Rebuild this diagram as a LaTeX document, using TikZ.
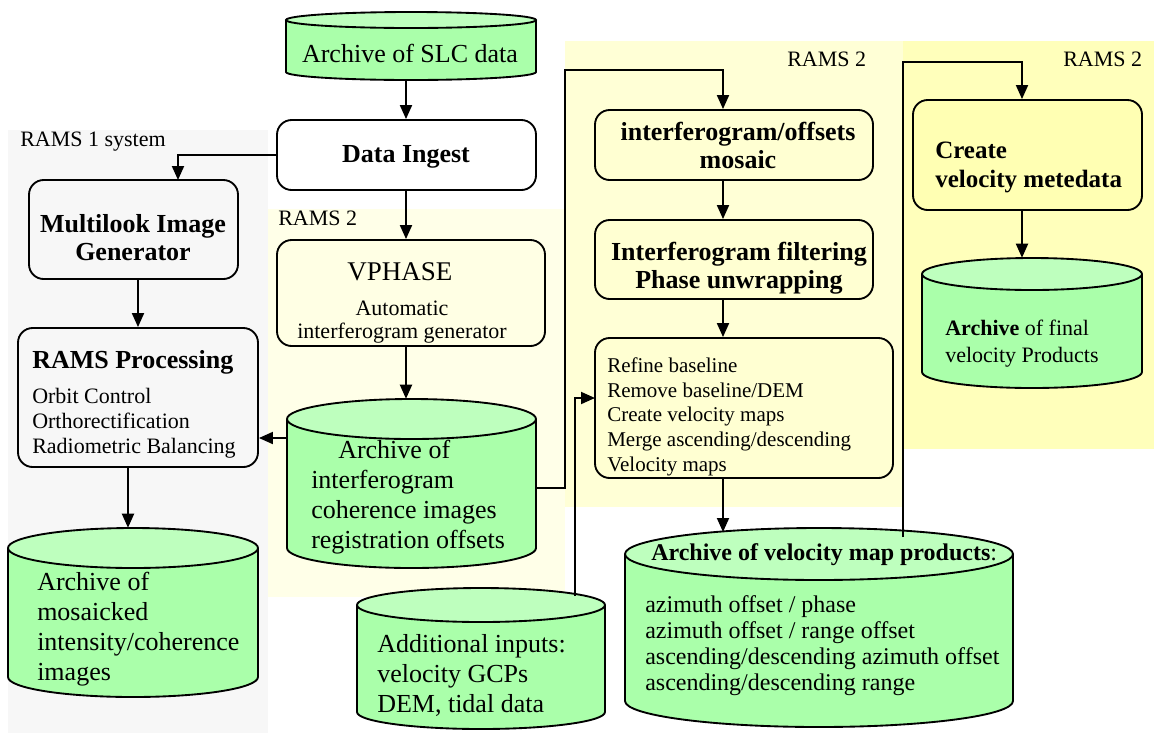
\documentclass[tikz,border=0pt]{standalone}
\usepackage{fontspec}
\setmainfont{Liberation Serif}
\usetikzlibrary{arrows.meta,fit}
\definecolor{bggrey}{HTML}{F7F7F7}
\definecolor{bgyelA}{HTML}{FFFFE8}
\definecolor{bgyelB}{HTML}{FFFFD6}
\definecolor{bgyelC}{HTML}{FFFFBB}
\definecolor{boxA}{HTML}{FFFFE4}
\definecolor{boxB}{HTML}{FFFFD2}
\definecolor{boxC}{HTML}{FFFFB3}
\definecolor{cylbodyc}{HTML}{AAFFAA}
\definecolor{cyltopc}{HTML}{BEFFBE}
\newcommand\fbig{\fontsize{19.5pt}{22.5pt}\selectfont}
\newcommand\fbigt{\fontsize{19.5pt}{21pt}\selectfont}
\newcommand\fmid{\fontsize{18pt}{19.5pt}\selectfont}
\newcommand\fsm{\fontsize{16.5pt}{18.75pt}\selectfont}
\newcommand\fxs{\fontsize{15.75pt}{18.4pt}\selectfont}
\newcommand\drawcyl[6]{%
  \pgfmathsetmacro\crx{(#4-#2)*0.375}%
  \pgfmathsetmacro\cry{#6*0.75}%
  \filldraw[cylbody] (#2,#3) -- (#2,#5) arc[start angle=180,end angle=360,x radius=\crx pt,y radius=\cry pt] -- (#4,#3);
  \filldraw[cyltop] ({(#2+#4)/2},#3) ellipse[x radius=\crx pt,y radius=\cry pt];
  \node[fit={(#2,{#3-#6}) (#4,{#5+#6})},inner sep=0pt] (#1) {};
}
\begin{document}
\begin{tikzpicture}[x=0.75pt,y=-0.75pt,
  proc/.style={draw,line width=1.4pt,rounded corners=11pt,inner sep=0pt},
  cylbody/.style={draw,line width=1.4pt,fill=cylbodyc},
  cyltop/.style={draw,line width=1.4pt,fill=cyltopc},
  arr/.style={draw,line width=1.4pt,-{Triangle[length=10.5pt,width=9pt]}},
  lbl/.style={inner sep=0pt,font=\fsm},
  txt/.style={inner sep=0pt}]
\useasboundingbox (0,0) rectangle (1154,733);
% backgrounds
\fill[bggrey] (8,130) rectangle (268,733);
\fill[bgyelA] (268,209) rectangle (565,597);
\fill[bgyelB] (565,41) rectangle (903,507);
\fill[bgyelC] (903,41) rectangle (1154,449);
% region labels
\node[lbl,anchor=base west] (lab1) at (20,146) {RAMS 1 system};
\node[lbl,anchor=base west] (lab2) at (278,225) {RAMS 2};
\node[lbl,anchor=base west] (lab3) at (787,66) {RAMS 2};
\node[lbl,anchor=base west] (lab4) at (1063,66) {RAMS 2};
% boxes
\node[proc,fill=white,fit={(277,120) (536,190)}] (ingest) {};
\node[proc,fill=bggrey,fit={(29,180) (238,279)}] (multi) {};
\node[proc,fill=bggrey,fit={(18,328) (258,467)}] (rams) {};
\node[proc,fill=boxA,fit={(277,240) (545,346)}] (vphase) {};
\node[proc,fill=boxB,fit={(595,110) (873,180)}] (mos) {};
\node[proc,fill=boxB,fit={(595,220) (873,299)}] (filt) {};
\node[proc,fill=boxB,fit={(595,338) (893,478)}] (refine) {};
\node[proc,fill=boxC,fit={(913,100) (1142,210)}] (create) {};
% cylinders
\drawcyl{slc}{286}{20}{536}{72}{8}
\drawcyl{mosA}{8}{548}{258}{677}{20}
\drawcyl{arch}{287}{419}{536}{548}{20}
\drawcyl{addl}{357}{605}{605}{712}{17}
\drawcyl{velA}{625}{554}{1013}{701}{26}
\drawcyl{finalA}{922}{274}{1142}{372}{16}
% texts (multi-line nodes: base anchor = last line baseline)
\node[txt,font=\fbig,anchor=base] (slcT) at (410,62) {Archive of SLC data};
\node[txt,font=\fbig\bfseries,anchor=base] (ingestT) at (406,162) {Data Ingest};
\node[txt,font=\fbigt\bfseries,align=center,anchor=base] (multiT) at (133,260) {Multilook Image\\Generator};
\node[txt,font=\fbig\bfseries,anchor=base west] (ramsT1) at (32,368) {RAMS Processing};
\node[txt,font=\fsm,align=left,anchor=base west] (ramsT2) at (32,453) {Orbit Control\\Orthorectification\\Radiometric Balancing};
\node[txt,font=\fontsize{20.25pt}{22pt}\selectfont,anchor=base] (vphT1) at (400,280) {VPHASE};
\node[txt,font=\fontsize{16.5pt}{17.25pt}\selectfont,align=center,anchor=base] (vphT2) at (402,338) {Automatic\\interferogram generator};
\node[txt,font=\fbig,align=left,anchor=base west] (archT) at (311,548) {\hspace*{20.25pt}Archive of\\interferogram\\coherence images\\registration offsets};
\node[txt,font=\fbig,align=left,anchor=base west] (addlT) at (377,712) {Additional inputs:\\velocity GCPs\\DEM, tidal data};
\node[txt,font=\fbig,align=left,anchor=base west] (mosAT) at (37,680) {Archive of\\mosaicked\\intensity/coherence\\images};
\node[txt,font=\fbigt\bfseries,align=center,anchor=base] (mosT) at (738,168) {interferogram/offsets\\mosaic};
\node[txt,font=\fbigt\bfseries,align=center,anchor=base] (filtT) at (739,288) {Interferogram filtering\\Phase unwrapping};
\node[txt,font=\fxs,align=left,anchor=base west] (refT) at (607,471) {Refine baseline\\Remove baseline/DEM\\Create velocity maps\\Merge ascending/descending\\Velocity maps};
\node[txt,font=\fmid,anchor=base west] (velT1) at (651,560) {\textbf{Archive of velocity map products}:};
\node[txt,font=\fontsize{18pt}{19.5pt}\selectfont,align=left,anchor=base west] (velT2) at (645,690) {azimuth offset / phase\\azimuth offset / range offset\\ascending/descending azimuth offset\\ascending/descending range};
\node[txt,font=\fontsize{18.75pt}{21.75pt}\selectfont\bfseries,align=left,anchor=base west] (createT) at (935,187) {Create\\velocity metedata};
\node[txt,font=\fontsize{16.5pt}{20.25pt}\selectfont,align=left,anchor=base west] (finalT) at (945,362) {\textbf{Archive} of final\\velocity Products};
% connector helper coordinates
\coordinate (colA) at (406,0);
\coordinate (mlin) at (178,180);
\coordinate (colR) at (128,0);
\coordinate (archL) at (287,438);
\coordinate (archR) at (536,488);
\coordinate (b1) at (565,70);
\coordinate (colx) at (723,0);
\coordinate (velin) at (723,532);
\coordinate (d1) at (575,596);
\coordinate (refL) at (595,398);
\coordinate (e1) at (903,537);
\coordinate (f1) at (1022,62);
% connectors
\draw[arr] (colA |- slc.south) -- (colA |- ingest.north);
\draw[arr] (ingest.west) -| (mlin);
\draw[arr] (colA |- ingest.south) -- (colA |- vphase.north);
\draw[arr] (rams.north |- multi.south) -- (rams.north);
\draw[arr] (colA |- vphase.south) -- (colA |- arch.north);
\draw[arr] (archL) -- (archL -| rams.east);
\draw[arr] (colR |- rams.south) -- (colR |- mosA.north);
\draw[arr] (archR) -| (b1) -| (colx |- mos.north);
\draw[arr] (colx |- mos.south) -- (colx |- filt.north);
\draw[arr] (colx |- filt.south) -- (colx |- refine.north);
\draw[arr] (colx |- refine.south) -- (velin);
\draw[arr] (d1) |- (refL);
\draw[arr] (e1) |- (f1) -- (f1 |- create.north);
\draw[arr] (f1 |- create.south) -- (f1 |- finalA.north);
\end{tikzpicture}
\end{document}
